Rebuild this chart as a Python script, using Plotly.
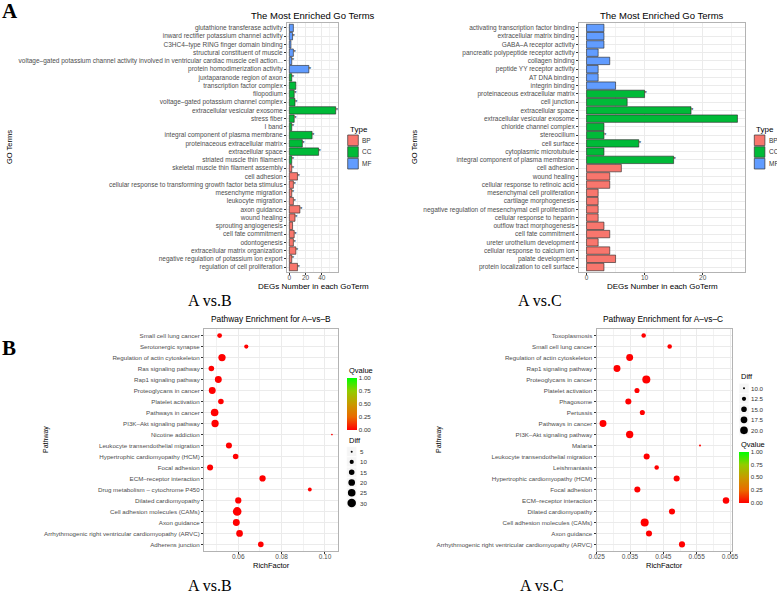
import plotly.graph_objects as go

W, H = 777, 593
def px(x): return x / W
def py(y): return 1 - y / H

# ---------------- DATA ----------------
# GO terms A vs B (top to bottom)
goB_terms = [
    "glutathione transferase activity", "inward rectifier potassium channel activity",
    "C3HC4–type RING finger domain binding", "structural constituent of muscle",
    "voltage–gated potassium channel activity involved in ventricular cardiac muscle cell action...",
    "protein homodimerization activity", "juxtaparanode region of axon", "transcription factor complex",
    "filopodium", "voltage–gated potassium channel complex", "extracellular vesicular exosome",
    "stress fiber", "I band", "integral component of plasma membrane",
    "proteinaceous extracellular matrix", "extracellular space", "striated muscle thin filament",
    "skeletal muscle thin filament assembly", "cell adhesion",
    "cellular response to transforming growth factor beta stimulus", "mesenchyme migration",
    "leukocyte migration", "axon guidance", "wound healing", "sprouting angiogenesis",
    "cell fate commitment", "odontogenesis", "extracellular matrix organization",
    "negative regulation of potassium ion export", "regulation of cell proliferation"]
goB_counts = [5, 4, 2, 5, 3, 24, 3, 8, 6, 7, 57, 6, 3, 28, 16, 36, 3, 3, 10, 5, 3, 5, 13, 7, 4, 6, 5, 8, 3, 10]
goB_types = ["MF"] * 6 + ["CC"] * 11 + ["BP"] * 13
goB_sig = [0, 1, 0, 1, 1, 1, 1, 0, 1, 1, 1, 1, 1, 1, 1, 1, 1, 1, 1, 1, 1, 1, 1, 1, 0, 1, 1, 1, 1, 1]

# GO terms A vs C (top to bottom)
goC_terms = [
    "activating transcription factor binding", "extracellular matrix binding", "GABA–A receptor activity",
    "pancreatic polypeptide receptor activity", "collagen binding", "peptide YY receptor activity",
    "AT DNA binding", "integrin binding", "proteinaceous extracellular matrix", "cell junction",
    "extracellular space", "extracellular vesicular exosome", "chloride channel complex", "stereocilium",
    "cell surface", "cytoplasmic microtubule", "integral component of plasma membrane", "cell adhesion",
    "wound healing", "cellular response to retinoic acid", "mesenchymal cell proliferation",
    "cartilage morphogenesis", "negative regulation of mesenchymal cell proliferation",
    "cellular response to heparin", "outflow tract morphogenesis", "cell fate commitment",
    "ureter urothelium development", "cellular response to calcium ion", "palate development",
    "protein localization to cell surface"]
goC_counts = [3, 3, 3, 2, 4, 2, 2, 5, 10, 7, 18, 26, 3, 3, 9, 3, 15, 6, 4, 4, 2, 2, 2, 2, 3, 4, 2, 4, 5, 3]
goC_types = ["MF"] * 8 + ["CC"] * 9 + ["BP"] * 13
goC_sig = [0] * 8 + [1, 0, 1, 0, 0, 1, 1, 0, 1] + [0] * 13

# KEGG A vs B (top to bottom)
kB_paths = [
    "Small cell lung cancer", "Serotonergic synapse", "Regulation of actin cytoskeleton",
    "Ras signaling pathway", "Rap1 signaling pathway", "Proteoglycans in cancer", "Platelet activation",
    "Pathways in cancer", "PI3K–Akt signaling pathway", "Nicotine addiction",
    "Leukocyte transendothelial migration", "Hypertrophic cardiomyopathy (HCM)", "Focal adhesion",
    "ECM–receptor interaction", "Drug metabolism – cytochrome P450", "Dilated cardiomyopathy",
    "Cell adhesion molecules (CAMs)", "Axon guidance",
    "Arrhythmogenic right ventricular cardiomyopathy (ARVC)", "Adherens junction"]
kB_rich = [0.0514, 0.0637, 0.0525, 0.0476, 0.0508, 0.0480, 0.0520, 0.0491, 0.0493, 0.1032,
           0.0557, 0.0588, 0.0470, 0.0712, 0.0930, 0.0600, 0.0595, 0.0591, 0.0606, 0.0704]
kB_diff = [12, 10, 23, 15, 21, 21, 15, 25, 23, 4, 17, 15, 17, 18, 9, 18, 31, 21, 20, 15]
kB_q = [0.0] * 20

# KEGG A vs C (top to bottom)
kC_paths = [
    "Toxoplasmosis", "Small cell lung cancer", "Regulation of actin cytoskeleton", "Rap1 signaling pathway",
    "Proteoglycans in cancer", "Platelet activation", "Phagosome", "Pertussis", "Pathways in cancer",
    "PI3K–Akt signaling pathway", "Malaria", "Leukocyte transendothelial migration", "Leishmaniasis",
    "Hypertrophic cardiomyopathy (HCM)", "Focal adhesion", "ECM–receptor interaction",
    "Dilated cardiomyopathy", "Cell adhesion molecules (CAMs)", "Axon guidance",
    "Arrhythmogenic right ventricular cardiomyopathy (ARVC)"]
kC_rich = [0.0391, 0.0469, 0.0349, 0.0311, 0.0399, 0.0371, 0.0345, 0.0387, 0.0269, 0.0349,
           0.0560, 0.0400, 0.0430, 0.0490, 0.0372, 0.0638, 0.0476, 0.0394, 0.0407, 0.0506]
kC_diff = [13, 13, 18, 18, 21, 14, 16, 14, 18, 19, 10, 16, 13, 16, 16, 17, 16, 21, 16, 16]
kC_q = [0.0] * 20

diffB_legend = [5, 10, 15, 20, 25, 30]
diffC_legend = [10.0, 12.5, 15.0, 17.5, 20.0]
diffC_legend_text = ["10.0", "12.5", "15.0", "17.5", "20.0"]
q_ticks = [0, 0.25, 0.5, 0.75, 1.0]
q_ticktext = ["0.00", "0.25", "0.50", "0.75", "1.00"]

# ---------------- STYLE ----------------
SANS = "Liberation Sans, Arial, sans-serif"
SERIF = "Liberation Serif, Times New Roman, serif"
TYPE_COLORS = {"BP": "#F8766D", "CC": "#00BA38", "MF": "#619CFF"}
QSCALE = [[0, "#FF0000"], [0.25, "#EA6A00"], [0.5, "#C89A00"], [0.75, "#92CC00"], [1, "#00FF00"]]

def sizeB(v):  # area-linear size scale, A vs B
    return max(2.72 * v - 9.6, 3.0) ** 0.5

def sizeC(v):  # area-linear size scale, A vs C
    return max(5.5 * v - 51.0, 3.0) ** 0.5

fig = go.Figure()

def add_go(terms, counts, types, sig, xa, ya):
    for t in ["BP", "CC", "MF"]:
        idx = [i for i, tt in enumerate(types) if tt == t]
        fig.add_trace(go.Bar(
            x=[counts[i] for i in idx], y=[terms[i] for i in idx], orientation="h", width=0.9,
            marker=dict(color=TYPE_COLORS[t], line=dict(color="#222222", width=0.6)),
            xaxis=xa, yaxis=ya, showlegend=False, hoverinfo="skip"))
    sx = [c for c, s in zip(counts, sig) if s]
    sy = [tm for tm, s in zip(terms, sig) if s]
    fig.add_trace(go.Scatter(
        x=sx, y=sy, mode="text", text=["*"] * len(sx), textposition="middle right",
        textfont=dict(size=6, color="black", family=SANS), xaxis=xa, yaxis=ya,
        showlegend=False, cliponaxis=False, hoverinfo="skip"))

add_go(goB_terms, goB_counts, goB_types, goB_sig, "x", "y")
add_go(goC_terms, goC_counts, goC_types, goC_sig, "x2", "y2")

fig.add_trace(go.Scatter(
    x=kB_rich, y=kB_paths, mode="markers", xaxis="x3", yaxis="y3", showlegend=False,
    marker=dict(size=[sizeB(v) for v in kB_diff], color=kB_q, coloraxis="coloraxis", opacity=1,
                line=dict(width=0))))
fig.add_trace(go.Scatter(
    x=kC_rich, y=kC_paths, mode="markers", xaxis="x4", yaxis="y4", showlegend=False,
    marker=dict(size=[sizeC(v) for v in kC_diff], color=kC_q, coloraxis="coloraxis2", opacity=1,
                line=dict(width=0))))

common = dict(showline=True, mirror=True, linecolor="#B3B3B3", linewidth=1, ticks="outside", ticklen=2,
              tickwidth=0.6, tickcolor="#333333", showgrid=True, gridcolor="#EBEBEB", gridwidth=0.6,
              zeroline=False, automargin=False, tickfont=dict(size=6.5, color="#4D4D4D", family=SANS))

def xax(dom, anchor, rng, tv, tt, minor_vals):
    d = dict(common)
    d.update(domain=dom, anchor=anchor, range=rng, tickvals=tv, ticktext=tt, ticklabelstandoff=-3,
             minor=dict(showgrid=True, gridcolor="#F2F2F2", gridwidth=0.4, tickvals=minor_vals))
    return d

def yax(dom, anchor, cats, fs):
    d = dict(common)
    d.update(domain=dom, anchor=anchor, type="category", categoryorder="array", categoryarray=cats,
             range=[len(cats) - 1 + 0.6, -0.6], tickfont=dict(size=fs, color="#4D4D4D", family=SANS))
    return d

yA = [py(272), py(23)]
yB = [py(551), py(329)]
layout = dict(
    width=W, height=H, margin=dict(l=0, r=0, t=0, b=0),
    paper_bgcolor="white", plot_bgcolor="white", barmode="overlay",
    font=dict(family=SANS),
    xaxis=xax([px(287), px(338)], "y", [-2.85, 59.85], [0, 20, 40], ["0", "20", "40"], [10, 30, 50]),
    yaxis=yax(yA, "x", goB_terms, 6.5),
    xaxis2=xax([px(579), px(745)], "y2", [-1.3, 27.3], [0, 10, 20], ["0", "10", "20"], [5, 15, 25]),
    yaxis2=yax(yA, "x2", goC_terms, 6.5),
    xaxis3=xax([px(204), px(338)], "y3", [0.0442, 0.1060], [0.06, 0.08, 0.10], ["0.06", "0.08", "0.10"],
               [0.05, 0.07, 0.09]),
    yaxis3=yax(yB, "x3", kB_paths, 6.2),
    xaxis4=xax([px(596.5), px(732)], "y4", [0.02495, 0.0656], [0.025, 0.035, 0.045, 0.055, 0.065],
               ["0.025", "0.035", "0.045", "0.055", "0.065"], [0.03, 0.04, 0.05, 0.06]),
    yaxis4=yax(yB, "x4", kC_paths, 6.2),
    coloraxis=dict(cmin=0, cmax=1, colorscale=QSCALE, colorbar=dict(
        x=px(346.7), xanchor="left", y=py(378), yanchor="top", len=52, lenmode="pixels",
        thickness=10, thicknessmode="pixels", xpad=0, ypad=0, outlinewidth=0, ticks="",
        tickvals=q_ticks, ticktext=q_ticktext, tickfont=dict(size=6.2, color="#333333", family=SANS))),
    coloraxis2=dict(cmin=0, cmax=1, colorscale=QSCALE, colorbar=dict(
        x=px(739.3), xanchor="left", y=py(451.7), yanchor="top", len=51, lenmode="pixels",
        thickness=10, thicknessmode="pixels", xpad=0, ypad=0, outlinewidth=0, ticks="",
        tickvals=q_ticks, ticktext=q_ticktext, tickfont=dict(size=6.2, color="#333333", family=SANS))),
)
fig.update_layout(**layout)

ann = []
def text(x, y, s, size, color="black", family=SANS, xanchor="center", angle=0, bold=False):
    if bold:
        s = "<b>" + s + "</b>"
    ann.append(dict(x=px(x), y=py(y), xref="paper", yref="paper", text=s, showarrow=False,
                    xanchor=xanchor, yanchor="middle", textangle=angle,
                    font=dict(size=size, color=color, family=family)))

# panel letters & comparison labels
text(9.5, 11, "A", 21, family=SERIF, bold=True)
text(8.5, 348, "B", 21, family=SERIF, bold=True)
text(210, 300, "A vs.B", 16, family=SERIF)
text(540, 300, "A vs.C", 16, family=SERIF)
text(210, 585, "A vs.B", 16, family=SERIF)
text(542, 585, "A vs.C", 16, family=SERIF)

# GO panel titles
for cx in [313, 662]:
    text(cx, 15, "The Most Enriched Go Terms", 9.5)
    text(cx, 287, "DEGs Number in each GoTerm", 8)
text(9, 147, "GO Terms", 7.5, angle=-90)
text(414, 147, "GO Terms", 7.5, angle=-90)

# KEGG panel titles
text(271, 319, "Pathway Enrichment for A–vs–B", 8.4)
text(663, 319, "Pathway Enrichment for A–vs–C", 8.4)
text(271, 565.5, "RichFactor", 7.5)
text(664, 565.5, "RichFactor", 7.5)
text(46, 440, "Pathway", 7, angle=-90)
text(439, 440, "Pathway", 7, angle=-90)

shapes = []
# Type legends
for lx in [347.7, 754.3]:
    text(lx, 129.3, "Type", 8, xanchor="left")
    for i, t in enumerate(["BP", "CC", "MF"]):
        y0 = 135 + i * 11.7
        shapes.append(dict(type="rect", xref="paper", yref="paper", x0=px(lx), x1=px(lx + 10.6),
                           y0=py(y0 + 10.6), y1=py(y0), fillcolor=TYPE_COLORS[t],
                           line=dict(color="#333333", width=0.7)))
        text(lx + 12.5, y0 + 5.3, t, 6.5, color="#333333", xanchor="left")

# Qvalue titles
text(347, 370.5, "Qvalue", 7.5, xanchor="left")
text(739.3, 444, "Qvalue", 7.5, xanchor="left")

# Diff legends
def diff_legend(cx, tx, ys, vals, labels, fn, title_y):
    text(cx - 4.7, title_y, "Diff", 7.5, xanchor="left")
    for y, v, lab in zip(ys, vals, labels):
        shapes.append(dict(type="rect", xref="paper", yref="paper", x0=px(cx - 5), x1=px(cx + 5),
                           y0=py(y + 5), y1=py(y - 5), fillcolor="#F5F5F5",
                           line=dict(color="white", width=0.6)))
        r = fn(v) / 2
        shapes.append(dict(type="circle", xref="paper", yref="paper", x0=px(cx - r), x1=px(cx + r),
                           y0=py(y + r), y1=py(y - r), fillcolor="black", line=dict(width=0)))
        text(tx, y, lab, 6.2, color="#333333", xanchor="left")

diff_legend(351.7, 358, [451.7, 461.9, 472.2, 482.5, 492.8, 503.1], diffB_legend,
            [str(v) for v in diffB_legend], sizeB, 440)
diff_legend(744, 748.5, [388.3, 398.8, 409.3, 419.8, 430.3], diffC_legend, diffC_legend_text, sizeC, 377)

fig.update_layout(annotations=ann, shapes=shapes)
fig.write_html("out.html", config={"displayModeBar": False},
               post_script="document.body.style.margin='0';document.body.style.overflow='hidden';")
